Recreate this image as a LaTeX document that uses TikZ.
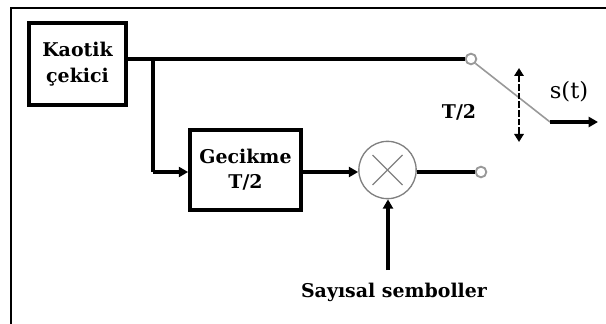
\documentclass[tikz,border=0pt]{standalone}
\usepackage{tikz}
\usepackage{fontspec}
\setmainfont{DejaVu Serif}
\usetikzlibrary{arrows.meta}

\begin{document}
\begin{tikzpicture}
[x=0.75pt,y=-0.75pt,
  boxDecorate/.style={shape=rectangle,draw,line width=2.8pt,align=center,inner sep=0pt,font=\bfseries\fontsize{14.2}{19}\selectfont},%
  lineDecorate/.style={line width=2.5pt},%
  arrowDecorate/.style={line width=2.5pt,-{Triangle[length=7pt,width=7.5pt]}},%
  portDecorate/.style={shape=circle,inner sep=0pt,minimum size=8pt,draw=black!40,line width=1.4pt,fill=white},%
  labelDecorate/.style={inner sep=0pt,font=\bfseries\fontsize{14.2}{17}\selectfont}]
\useasboundingbox (0,0) rectangle (606,324);
\draw[line width=1.5pt] (11,324) -- (11,8) -- (606,8);
%% nodes or vertices
\node (kaotik) at (77.5,64) [boxDecorate,minimum width=72.75pt,minimum height=61.5pt] {Kaotik\\çekici};
\node (gecikme) at (245.5,170) [boxDecorate,minimum width=83.25pt,minimum height=60pt] {Gecikme\\T/2};
\node (carpim) at (387.5,170) [shape=circle,inner sep=0pt,minimum size=43pt,draw=black!50,line width=1pt] {};
\foreach \nodename/\x/\y in {
  ustport/471/59, altport/481/172}
{
  \node (\nodename) at (\x,\y) [portDecorate] {};
}
\node (periyot) at (459,112) [labelDecorate] {T/2};
\node (cikis) at (569,92) [labelDecorate,font=\fontsize{17}{17}\selectfont] {s(t)};
\node (semboller) at (394,292) [labelDecorate] {Sayısal semboller};
%% free ends
\coordinate (dal) at (153,59);
\coordinate (dalalt) at (153,172);
\coordinate (anahtar) at (550,122);
\coordinate (cikisuc) at (598,122);
\coordinate (okust) at (519,68);
\coordinate (okalt) at (519,142);
\coordinate (oktaban) at (388,270);
%% edges or lines
\draw[lineDecorate] (kaotik.east |- dal) -- (ustport.west);
\draw[lineDecorate] (dal) -- (dalalt);
\draw[arrowDecorate] (dalalt) -- (gecikme.west |- dalalt);
\draw[arrowDecorate] (gecikme.east |- altport) -- (carpim.west |- altport);
\draw[lineDecorate] (carpim.east |- altport) -- (altport.west);
\draw[arrowDecorate] (oktaban) -- (carpim.south -| oktaban);
\draw[draw=black!40,line width=1.2pt] (ustport.south east) -- (anahtar);
\draw[arrowDecorate] (anahtar) -- (cikisuc);
\draw[line width=1.6pt,dash pattern=on 5pt off 1.5pt,{Triangle[length=6pt,width=7pt]}-{Triangle[length=6pt,width=7pt]}] (okust) -- (okalt);
\draw[draw=black!50,line width=1pt] ([shift={(-15,-15)}]carpim.center) -- ([shift={(15,15)}]carpim.center);
\draw[draw=black!50,line width=1pt] ([shift={(15,-15)}]carpim.center) -- ([shift={(-15,15)}]carpim.center);
\end{tikzpicture}
\end{document}
